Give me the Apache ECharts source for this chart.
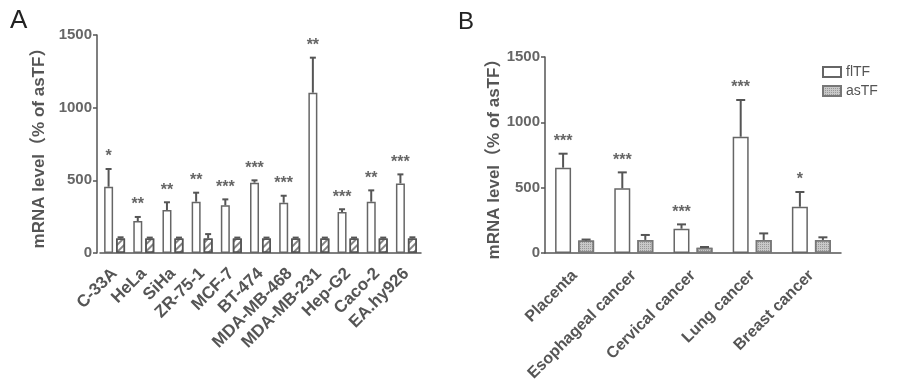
<!DOCTYPE html>
<html>
<head>
<meta charset="utf-8">
<script src="https://cdn.jsdelivr.net/npm/echarts@6/dist/echarts.min.js"></script>
<style>
  html, body { margin: 0; padding: 0; background: #fff; }
  #chart { width: 898px; height: 387px; }
</style>
</head>
<body>
<div id="chart"></div>
<script>
// Panel A: cell lines
const cellLines = ["C-33A", "HeLa", "SiHa", "ZR-75-1", "MCF-7", "BT-474", "MDA-MB-468", "MDA-MB-231", "Hep-G2", "Caco-2", "EA.hy926"];
const flTFA = [456, 220, 296, 353, 328, 484, 346, 1103, 282, 353, 479];
const flTFErrA = [122, 28, 53, 62, 41, 16, 48, 241, 19, 78, 62];
const asTFA = [100, 100, 100, 100, 100, 100, 100, 100, 100, 100, 100];
const asTFErrA = [8, 6, 6, 30, 6, 6, 6, 6, 6, 6, 8];
const starsA = ["*", "**", "**", "**", "***", "***", "***", "**", "***", "**", "***"];

// Panel B: tissues
const tissues = ["Placenta", "Esophageal cancer", "Cervical cancer", "Lung cancer", "Breast cancer"];
const flTFB = [653, 495, 186, 890, 354];
const flTFErrB = [107, 122, 33, 281, 113];
const asTFB = [95, 100, 40, 100, 100];
const asTFErrB = [8, 38, 6, 50, 20];
const starsB = ["***", "***", "***", "***", "*"];

const yTicks = [0, 500, 1000, 1500];

const FONT = "'Liberation Sans', Arial, 'Noto Sans CJK SC', sans-serif";
const TEXT = "#555";
const LINE = "#555";

const chart = echarts.init(document.getElementById("chart"));

// error bar (upper only) with optional significance stars
function errorSeries(name, idx, means, errs, stars, shift, capW) {
  return {
    name: name,
    type: "custom",
    xAxisIndex: idx,
    yAxisIndex: idx,
    silent: true,
    z: 5,
    data: means.map((m, i) => [i, m, m + errs[i]]),
    renderItem: (params, api) => {
      const base = api.coord([api.value(0), api.value(1)]);
      const top = api.coord([api.value(0), api.value(2)]);
      const x = base[0] + shift;
      const lineStyle = { stroke: LINE, lineWidth: 2 };
      const children = [
        { type: "line", shape: { x1: x, y1: base[1], x2: x, y2: top[1] }, style: lineStyle },
        { type: "line", shape: { x1: x - capW / 2, y1: top[1], x2: x + capW / 2, y2: top[1] }, style: lineStyle },
      ];
      if (stars) {
        children.push({
          type: "text",
          style: {
            text: stars[params.dataIndex],
            x: x,
            y: top[1] - 4,
            align: "center",
            verticalAlign: "bottom",
            fontSize: 16,
            fontWeight: "bold",
            fontFamily: FONT,
            fill: "#666",
          },
        });
      }
      return { type: "group", children: children };
    },
  };
}

function xAxis(idx, data, fontSize, margin) {
  return {
    type: "category",
    gridIndex: idx,
    data: data,
    axisLine: { lineStyle: { color: LINE, width: 1.5 } },
    axisTick: { alignWithLabel: true, length: 5, lineStyle: { color: LINE, width: 1.5 } },
    axisLabel: { rotate: 45, fontSize: fontSize, fontWeight: "bold", color: TEXT, fontFamily: FONT, margin: margin, interval: 0 },
  };
}

function yAxis(idx, offset, nameGap) {
  return {
    type: "value",
    gridIndex: idx,
    min: 0,
    max: yTicks[yTicks.length - 1],
    interval: yTicks[1] - yTicks[0],
    offset: offset,
    name: "mRNA level（% of asTF）",
    nameLocation: "middle",
    nameGap: nameGap,
    nameTextStyle: { fontSize: 17, fontWeight: "bold", color: TEXT, fontFamily: FONT },
    splitLine: { show: false },
    axisLine: { show: true, lineStyle: { color: LINE, width: 1.5 } },
    axisTick: { show: true, length: 4, lineStyle: { color: LINE, width: 1.5 } },
    axisLabel: { fontSize: 15, fontWeight: "bold", color: "#666", fontFamily: FONT, margin: 5, formatter: (v) => String(v) },
  };
}

const flStyle = { color: "#fff", borderColor: "#666", borderWidth: 1.5 };
const asStyleA = {
  color: "#fff",
  borderColor: "#555",
  borderWidth: 1.5,
  decal: { symbol: "rect", symbolSize: 1, color: "rgba(80,80,80,0.7)", dashArrayX: [1, 0], dashArrayY: [2, 3], rotation: -Math.PI / 4 },
};
const asStyleB = {
  color: "#c8c8c8",
  borderColor: "#777",
  borderWidth: 1.5,
  decal: { symbol: "rect", symbolSize: 1, color: "rgba(120,120,120,0.6)", dashArrayX: [1, 1], dashArrayY: [1, 1], rotation: 0 },
};

const option = {
  animation: false,
  textStyle: { fontFamily: FONT },
  title: [
    { text: "A", left: 5, top: 3, textStyle: { fontSize: 26, fontWeight: "normal", color: "#222", fontFamily: FONT } },
    { text: "B", left: 453, top: 5, textStyle: { fontSize: 24, fontWeight: "normal", color: "#222", fontFamily: FONT } },
  ],
  legend: {
    orient: "vertical",
    left: 822,
    top: 65,
    padding: 0,
    icon: "rect",
    itemWidth: 18,
    itemHeight: 10,
    itemGap: 5,
    selectedMode: false,
    data: ["flTF", "asTF"],
    textStyle: { fontSize: 14, color: TEXT, fontFamily: FONT },
  },
  grid: [
    { left: 100, top: 35, width: 321, height: 218 },
    { left: 545, top: 57, width: 296, height: 196 },
  ],
  xAxis: [xAxis(0, cellLines, 17, 18), xAxis(1, tissues, 16, 20)],
  yAxis: [yAxis(0, 3, 49), yAxis(1, 0, 40)],
  series: [
    { name: "flTF", type: "bar", xAxisIndex: 1, yAxisIndex: 1, barWidth: 16, barGap: "44%", itemStyle: flStyle, data: flTFB },
    { name: "asTF", type: "bar", xAxisIndex: 1, yAxisIndex: 1, barWidth: 16, barGap: "44%", itemStyle: asStyleB, data: asTFB },
    { name: "flTF", type: "bar", xAxisIndex: 0, yAxisIndex: 0, barWidth: 9, barGap: "33%", itemStyle: flStyle, data: flTFA },
    { name: "asTF", type: "bar", xAxisIndex: 0, yAxisIndex: 0, barWidth: 9, barGap: "33%", itemStyle: asStyleA, data: asTFA },
    errorSeries("errFlA", 0, flTFA, flTFErrA, starsA, -6, 6),
    errorSeries("errAsA", 0, asTFA, asTFErrA, null, 6, 6),
    errorSeries("errFlB", 1, flTFB, flTFErrB, starsB, -11.5, 9),
    errorSeries("errAsB", 1, asTFB, asTFErrB, null, 11.5, 9),
  ],
};

chart.setOption(option);
</script>
</body>
</html>
